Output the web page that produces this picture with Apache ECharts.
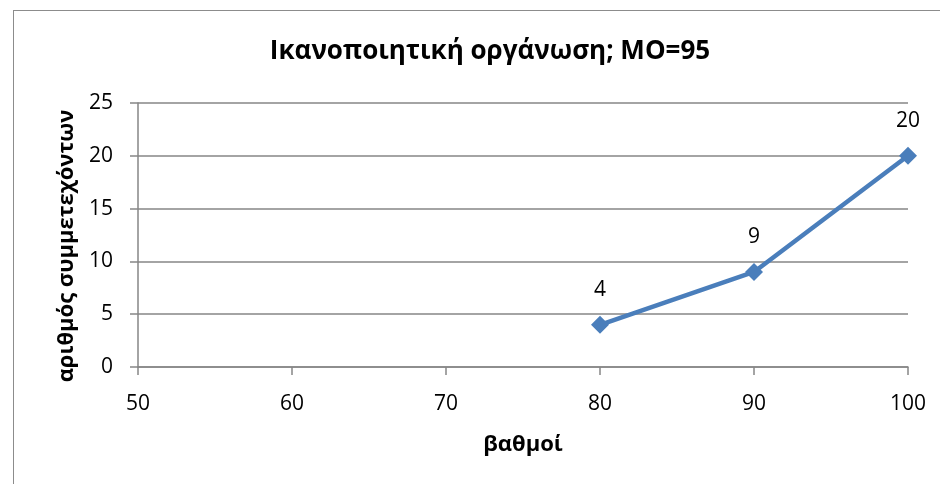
<!DOCTYPE html>
<html>
<head>
<meta charset="utf-8">
<style>
  html, body { margin: 0; padding: 0; background: #fff; }
  #frame { position: absolute; left: 13px; top: 10px; width: 940px; height: 480px; border: 1px solid #8c8c8c; box-sizing: border-box; }
  #chart { position: absolute; left: 0; top: 0; width: 940px; height: 484px; }
</style>
<script src="https://cdn.jsdelivr.net/npm/echarts@6/dist/echarts.min.js"></script>
</head>
<body>
<div id="frame"></div>
<div id="chart"></div>
<script>
// Scores and number of participants at each score
const scores = [80, 90, 100];
const participants = [4, 9, 20];
const xTicks = [50, 60, 70, 80, 90, 100];
const yTicks = [0, 5, 10, 15, 20, 25];

const titleText = 'Ικανοποιητική οργάνωση; MO=95';
const xName = 'βαθμοί';
const yName = 'αριθμός συμμετεχόντων';

const font = '"Open Sans", "Noto Sans", sans-serif';
const gridColor = '#868686';
const lineColor = '#4A7EBB';

const chart = echarts.init(document.getElementById('chart'), null, { renderer: 'canvas' });
chart.setOption({
  animation: false,
  backgroundColor: 'transparent',
  title: {
    text: titleText,
    left: 485, top: 34, textAlign: 'center',
    textStyle: { fontFamily: font, fontWeight: 'bold', fontSize: 26, color: '#000' }
  },
  grid: { left: 138, right: 32, top: 103, bottom: 117 },
  xAxis: {
    type: 'value',
    min: xTicks[0], max: xTicks[xTicks.length - 1], interval: 10,
    name: xName, nameLocation: 'middle', nameGap: 67,
    nameTextStyle: { fontFamily: font, fontWeight: 'bold', fontSize: 22, color: '#000' },
    axisLine: { show: true, lineStyle: { color: gridColor, width: 1.5 } },
    axisTick: { show: true, length: 8, lineStyle: { color: gridColor, width: 1.5 } },
    axisLabel: { fontFamily: font, fontSize: 21, color: '#000', margin: 27 },
    splitLine: { show: false }
  },
  yAxis: {
    type: 'value',
    min: yTicks[0], max: yTicks[yTicks.length - 1], interval: 5,
    name: yName, nameLocation: 'middle', nameGap: 44, nameRotate: 90,
    nameTextStyle: { fontFamily: font, fontWeight: 'bold', fontSize: 22, color: '#000', padding: [0, 22, 0, 0] },
    axisLine: { show: true, lineStyle: { color: gridColor, width: 1.5 } },
    axisTick: { show: true, length: 8, lineStyle: { color: gridColor, width: 1.5 } },
    axisLabel: { fontFamily: font, fontSize: 21, color: '#000', margin: 25 },
    splitLine: { show: true, lineStyle: { color: gridColor, width: 1.5 } }
  },
  series: [{
    type: 'line',
    data: scores.map((s, i) => [s, participants[i]]),
    symbol: 'diamond',
    symbolSize: 18,
    lineStyle: { color: lineColor, width: 4.5 },
    itemStyle: { color: lineColor },
    label: {
      show: true, position: 'top', distance: 15,
      fontFamily: font, fontSize: 21, color: '#000',
      formatter: p => String(p.value[1])
    }
  }]
});
</script>
</body>
</html>
